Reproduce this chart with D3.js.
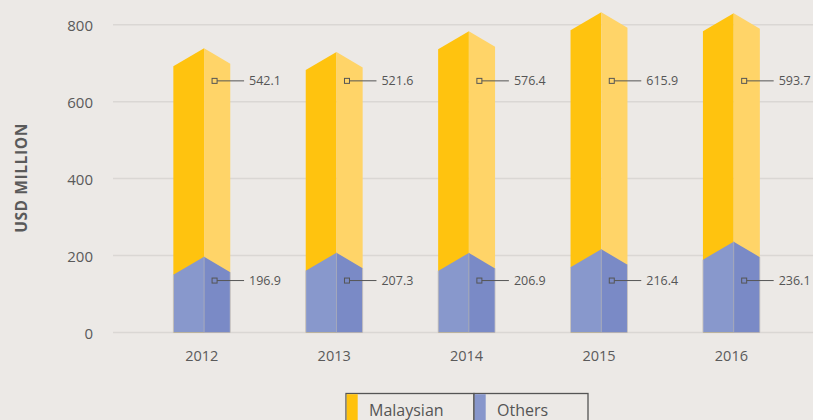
<!DOCTYPE html>
<html>
<head>
<meta charset="utf-8">
<script src="https://cdn.jsdelivr.net/npm/d3@7"></script>
<style>
  html, body { margin: 0; padding: 0; background: #ECE9E6; }
  svg { display: block; font-family: "Open Sans", sans-serif; }
</style>
</head>
<body>
<svg id="chart" width="813" height="420"></svg>
<script>
const years = ["2012", "2013", "2014", "2015", "2016"];
const malaysian = [542.1, 521.6, 576.4, 615.9, 593.7];
const others = [196.9, 207.3, 206.9, 216.4, 236.1];
const yTicks = [0, 200, 400, 600, 800];
const seriesNames = ["Malaysian", "Others"];

const colors = {
  malLeft: "#FFC30F", malRight: "#FFD468",
  othLeft: "#8898CC", othRight: "#7A8AC6"
};

const svg = d3.select("#chart");
const W = 813, H = 420;

const x = d3.scaleBand().domain(years).range([135.6, 797.6]).paddingInner(0.57).paddingOuter(0.285);
const y = d3.scaleLinear().domain([0, 800]).range([332.5, 24.7]);

// gridlines
svg.append("g").selectAll("line").data(yTicks).join("line")
  .attr("x1", 113).attr("x2", W)
  .attr("y1", d => y(d)).attr("y2", d => y(d))
  .attr("stroke", "#DAD7D4").attr("stroke-width", 1.5);

// y tick labels
svg.append("g").selectAll("text").data(yTicks).join("text")
  .attr("x", 93).attr("y", d => y(d))
  .attr("text-anchor", "end").attr("dominant-baseline", "central")
  .attr("font-size", 15).attr("fill", "#5a5a5a")
  .text(d => d);

// y title
svg.append("text")
  .attr("transform", "translate(21,178) rotate(-90)")
  .attr("text-anchor", "middle").attr("dominant-baseline", "central")
  .attr("font-size", 15.5).attr("font-weight", 700).attr("fill", "#5a5a5a")
  .attr("letter-spacing", 0.6)
  .text("USD MILLION");

// x labels
svg.append("g").selectAll("text").data(years).join("text")
  .attr("x", d => x(d) + x.bandwidth() / 2).attr("y", 355.5)
  .attr("text-anchor", "middle").attr("dominant-baseline", "central")
  .attr("font-size", 14.5).attr("fill", "#5a5a5a")
  .text(d => d);

const ridgeFrac = 0.54;
const dropL = 18, dropR = 15.5;
const base = y(0);

const bars = years.map((yr, i) => ({
  year: yr, oth: others[i], mal: malaysian[i], total: others[i] + malaysian[i]
}));

function faces(g, d, topVal, cl, cr) {
  const x0 = x(d.year), x1 = x0 + x.bandwidth(), xm = x0 + x.bandwidth() * ridgeFrac;
  const yt = y(topVal);
  g.append("path")
    .attr("d", `M${x0},${base}L${x0},${yt + dropL}L${xm},${yt}L${xm},${base}Z`)
    .attr("fill", cl);
  g.append("path")
    .attr("d", `M${xm},${base}L${xm},${yt}L${x1},${yt + dropR}L${x1},${base}Z`)
    .attr("fill", cr);
}

const gb = svg.append("g");
bars.forEach(d => {
  const g = gb.append("g");
  faces(g, d, d.total, colors.malLeft, colors.malRight);
  faces(g, d, d.oth, colors.othLeft, colors.othRight);
  const x0 = x(d.year), xm = x0 + x.bandwidth() * ridgeFrac;
  g.append("line").attr("x1", xm).attr("x2", xm)
    .attr("y1", y(d.oth)).attr("y2", base)
    .attr("stroke", "#A3A8BE").attr("stroke-width", 1);
  g.append("line").attr("x1", x0).attr("x2", x0)
    .attr("y1", y(d.oth) + dropL).attr("y2", base)
    .attr("stroke", "#C9C6C8").attr("stroke-width", 0.8);
  g.append("line").attr("x1", x0 + x.bandwidth()).attr("x2", x0 + x.bandwidth())
    .attr("y1", y(d.oth) + dropR).attr("y2", base)
    .attr("stroke", "#C9C6C8").attr("stroke-width", 0.8);
});

// value labels at fixed levels
const labelLevels = { mal: 654, oth: 135 };
function addLabel(d, level, val) {
  const xm = x(d.year) + x.bandwidth() * ridgeFrac;
  const ly = y(level);
  const g = svg.append("g");
  g.append("rect").attr("x", xm + 8).attr("y", ly - 2.5).attr("width", 5).attr("height", 5)
    .attr("fill", "none").attr("stroke", "#555").attr("stroke-width", 1);
  g.append("line").attr("x1", xm + 13).attr("x2", xm + 40).attr("y1", ly).attr("y2", ly)
    .attr("stroke", "#555").attr("stroke-width", 1);
  g.append("text").attr("x", xm + 45).attr("y", ly)
    .attr("dominant-baseline", "central").attr("font-size", 12.5).attr("fill", "#555")
    .text(val.toFixed(1));
}
bars.forEach(d => {
  addLabel(d, labelLevels.mal, d.mal);
  addLabel(d, labelLevels.oth, d.oth);
});

// legend
const legend = svg.append("g");
const cells = [
  { name: seriesNames[0], x0: 346, x1: 474, color: "#FFC20E" },
  { name: seriesNames[1], x0: 474, x1: 588, color: "#8796CB" }
];
cells.forEach(c => {
  legend.append("rect").attr("x", c.x0).attr("y", 393.5).attr("width", c.x1 - c.x0).attr("height", 40)
    .attr("fill", "none").attr("stroke", "#555").attr("stroke-width", 1.3);
  legend.append("rect").attr("x", c.x0 + 0.7).attr("y", 394.2).attr("width", 11).attr("height", 40)
    .attr("fill", c.color);
  legend.append("text").attr("x", c.x0 + 23).attr("y", 416)
    .attr("font-size", 16).attr("fill", "#555").text(c.name);
});
</script>
</body>
</html>
